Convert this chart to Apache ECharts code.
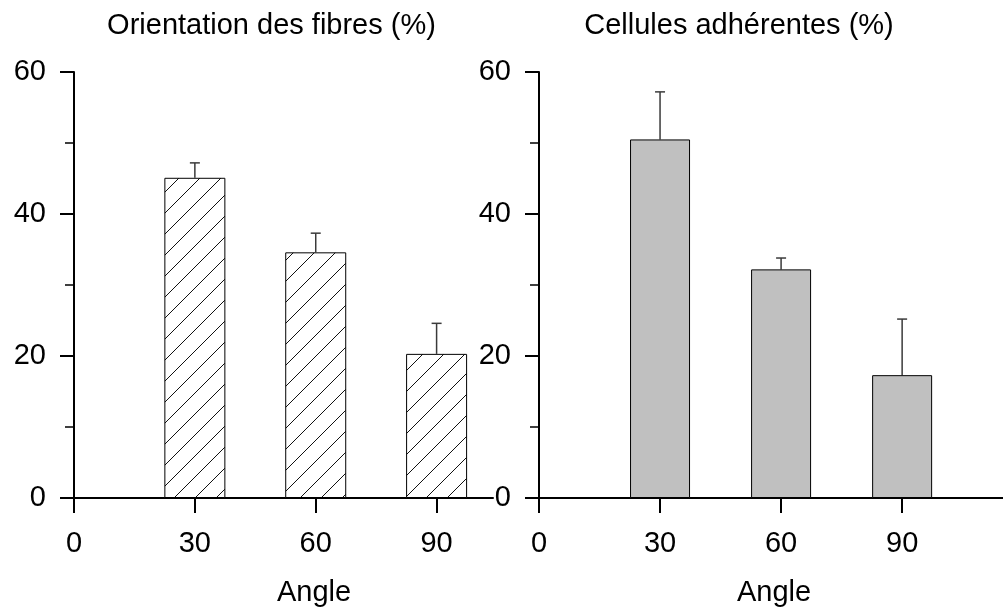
<!DOCTYPE html>
<html>
<head>
<meta charset="utf-8">
<script src="https://cdn.jsdelivr.net/npm/echarts@6/dist/echarts.min.js"></script>
<style>
  html, body { margin: 0; padding: 0; background: #fff; }
  #chart { width: 1003px; height: 612px; }
</style>
</head>
<body>
<div id="chart"></div>
<script>
// Angles tested and measured means (%), with the standard deviation drawn as an upper whisker
const angles = [30, 60, 90];
const fibreMean = [45.1, 34.6, 20.3];
const fibreSd = [2.1, 2.7, 4.3];
const cellMean = [50.5, 32.2, 17.3];
const cellSd = [6.7, 1.6, 7.9];

const xTicks = [0, 30, 60, 90];
const yTicks = [0, 20, 40, 60];

const panelTitles = ['Orientation des fibres (%)', 'Cellules adhérentes (%)'];
const axisTitle = 'Angle';

const FONT = '"Liberation Sans", Arial, sans-serif';
const FS = 29;

// Tile with a single "/" stroke; repeating it gives continuous diagonal hatching
function hatchTile(step) {
  const c = document.createElement('canvas');
  c.width = c.height = step;
  const g = c.getContext('2d');
  g.fillStyle = '#fff';
  g.fillRect(0, 0, step, step);
  g.strokeStyle = '#111';
  g.lineWidth = 1;
  g.beginPath();
  g.moveTo(-2, step + 2);
  g.lineTo(step + 2, -2);
  g.stroke();
  return c;
}

function xAxisFor(idx, max) {
  return {
    type: 'value', gridIndex: idx, min: 0, max: max,
    axisLine: { show: true, onZero: false, lineStyle: { color: '#000', width: 2 } },
    axisTick: { show: true, customValues: xTicks, length: 15, lineStyle: { color: '#000', width: 2 } },
    axisLabel: { customValues: xTicks, margin: 31, color: '#000', fontSize: FS, fontFamily: FONT },
    splitLine: { show: false }
  };
}

function yAxisFor(idx) {
  return {
    type: 'value', gridIndex: idx, min: yTicks[0], max: yTicks[yTicks.length - 1], interval: 20,
    axisLine: { show: true, lineStyle: { color: '#000', width: 2 } },
    axisTick: { show: true, length: 14, lineStyle: { color: '#000', width: 2 } },
    minorTick: { show: true, splitNumber: 2, length: 9, lineStyle: { color: '#000', width: 1.5 } },
    axisLabel: { margin: 28, color: '#000', fontSize: FS, fontFamily: FONT },
    splitLine: { show: false },
    minorSplitLine: { show: false }
  };
}

function barSeries(idx, means, width, color) {
  return {
    type: 'bar', xAxisIndex: idx, yAxisIndex: idx,
    data: angles.map((a, i) => [a, means[i]]),
    barWidth: width,
    itemStyle: { color: color, borderColor: '#000', borderWidth: 1 },
    emphasis: { disabled: true },
    z: 3
  };
}

function errorSeries(idx, means, sds) {
  return {
    type: 'custom', xAxisIndex: idx, yAxisIndex: idx,
    data: angles.map((a, i) => [a, means[i], means[i] + sds[i]]),
    renderItem: function (params, api) {
      const base = api.coord([api.value(0), api.value(1)]);
      const top = api.coord([api.value(0), api.value(2)]);
      const hw = 5;
      const st = { stroke: '#3a3a3a', lineWidth: 1.5 };
      return {
        type: 'group',
        children: [
          { type: 'line', shape: { x1: base[0], y1: base[1], x2: top[0], y2: top[1] }, style: st },
          { type: 'line', shape: { x1: top[0] - hw, y1: top[1], x2: top[0] + hw, y2: top[1] }, style: st }
        ]
      };
    },
    z: 2
  };
}

function label(text, x, y) {
  return {
    type: 'text', x: x, y: y,
    style: {
      text: text, fill: '#000', fontSize: FS, fontFamily: FONT,
      textAlign: 'center', textVerticalAlign: 'middle', align: 'center', verticalAlign: 'middle'
    }
  };
}

const chart = echarts.init(document.getElementById('chart'), null, { renderer: 'canvas' });
chart.setOption({
  backgroundColor: '#fff',
  animation: false,
  grid: [
    { left: 74, top: 72, width: 419, height: 426, outerBoundsMode: 'none' },
    { left: 539, top: 72, right: 0, height: 426, outerBoundsMode: 'none' }
  ],
  xAxis: [xAxisFor(0, 104), xAxisFor(1, 115)],
  yAxis: [yAxisFor(0), yAxisFor(1)],
  series: [
    barSeries(0, fibreMean, 61, { image: hatchTile(21), repeat: 'repeat' }),
    errorSeries(0, fibreMean, fibreSd),
    barSeries(1, cellMean, 60, '#c0c0c0'),
    errorSeries(1, cellMean, cellSd)
  ],
  graphic: [
    label(panelTitles[0], 271.5, 26),
    label(panelTitles[1], 739, 26),
    label(axisTitle, 314, 593),
    label(axisTitle, 774, 593)
  ]
});
</script>
</body>
</html>
